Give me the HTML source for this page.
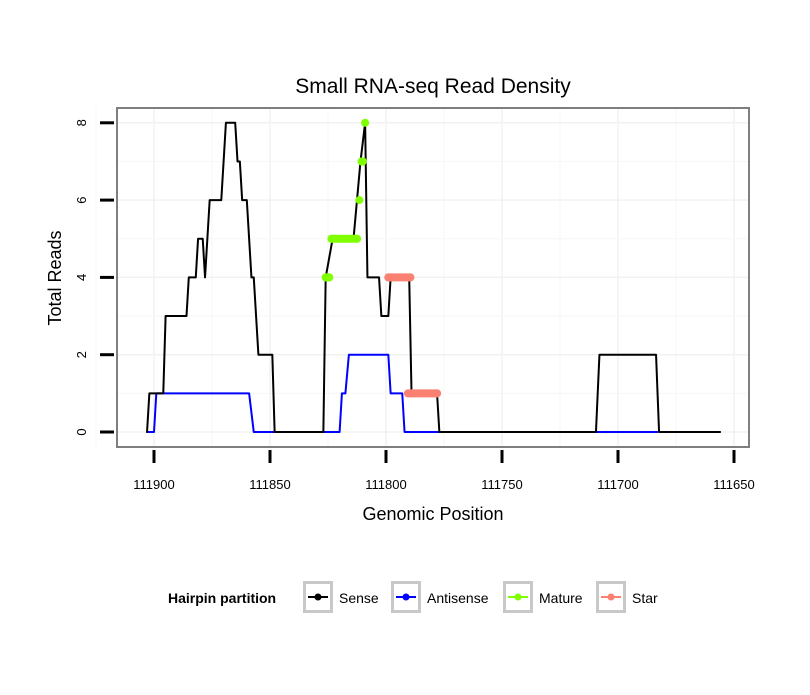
<!DOCTYPE html>
<html><head><meta charset="utf-8"><style>
body{margin:0;background:#fff;font-family:"Liberation Sans",sans-serif}
svg text{font-family:"Liberation Sans",sans-serif}
</style></head><body>
<svg id="c" width="810" height="690" xmlns="http://www.w3.org/2000/svg"></svg>
<script>
const senseX=[111903,111902,111896,111895,111886,111885,111882,111881,111879,111878,111876,111871,111869,111865,111864,111863,111862,111860,111858,111857,111855,111849,111848,111827,111826,111823,111814,111812.5,111811,111809,111808,111803,111802,111799,111798,111790,111789,111778,111777,111709.5,111708,111683.6,111682.3,111656];
const senseY=[0,1,1,3,3,4,4,5,5,4,6,6,8,8,7,7,6,6,4,4,2,2,0,0,4,5,5,6,7,8,4,4,3,3,4,4,1,1,0,0,2,2,0,0];
const antiX=[111903,111900,111899,111859,111857,111848,111820,111819,111817.5,111816,111799,111798,111793,111792,111683];
const antiY=[0,0,1,1,0,0,0,1,1,2,2,1,1,0,0];
const matureX=[111826,111824.5,111823.5,111812.5,111811.5,111810.5,111810,111809];
const matureY=[4,4,5,5,6,7,7,8];
const starX=[111799,111789.5,111790.5,111778];
const starY=[4,4,1,1];
const xTicks=[111900,111850,111800,111750,111700,111650];
const yTicks=[0,2,4,6,8];
const L=117,R=749,T=108,B=447;
const sx=v=>154+(111900-v)*2.32;
const sy=v=>432-v*38.65;
const svg=document.getElementById('c');
const NS='http://www.w3.org/2000/svg';
function mk(t,a,p){const e=document.createElementNS(NS,t);for(const k in a)e.setAttribute(k,a[k]);(p||svg).appendChild(e);return e;}
let e;
e=mk('rect',{x:L,y:T,width:R-L,height:B-T,fill:'#fff'});


// grid
xTicks.forEach((t,i)=>{e=mk('line',{x1:sx(t),x2:sx(t),y1:T,y2:B,stroke:'#f2f2f2','stroke-width':1.5});


if(i<xTicks.length-1){e=mk('line',{x1:sx(t-25),x2:sx(t-25),y1:T,y2:B,stroke:'#f7f7f7','stroke-width':1});

}});
e=mk('line',{x1:sx(111925),x2:sx(111925),y1:T,y2:B,stroke:'#f7f7f7'});
yTicks.forEach((t,i)=>{e=mk('line',{x1:L,x2:R,y1:sy(t),y2:sy(t),stroke:'#f2f2f2','stroke-width':1.5});


if(i<yTicks.length-1){e=mk('line',{x1:L,x2:R,y1:sy(t+1),y2:sy(t+1),stroke:'#f7f7f7'});

}});
function line(xs,ys,col,w,name){const p=xs.map((x,i)=>sx(x)+','+sy(ys[i])).join(' ');
const l=mk('polyline',{points:p,fill:'none',stroke:col,'stroke-width':w,'stroke-linejoin':'round','stroke-linecap':'round'});

}
line(antiX,antiY,'#0000ff',2,'antisense-line');
line(senseX,senseY,'#000',2,'sense-line');
function seg(xs,ys,col,name){for(let i=0;i<xs.length;i++){const c=mk('circle',{cx:sx(xs[i]),cy:sy(ys[i]),r:4,fill:col});


if(i<xs.length-1&&ys[i]===ys[i+1]){const l=mk('line',{x1:sx(xs[i]),x2:sx(xs[i+1]),y1:sy(ys[i]),y2:sy(ys[i]),stroke:col,'stroke-width':8,'stroke-linecap':'round'});

}}}
seg(matureX,matureY,'#7fff00','mature');
seg(starX,starY,'#fa8072','star');
e=mk('rect',{x:L,y:T,width:R-L,height:B-T,fill:'none',stroke:'#7f7f7f','stroke-width':2});


xTicks.forEach(t=>{e=mk('line',{x1:sx(t),x2:sx(t),y1:450,y2:463,stroke:'#000','stroke-width':3});


e=mk('text',{x:sx(t),y:489,'text-anchor':'middle','font-size':13});e.textContent=t;

});
yTicks.forEach(t=>{e=mk('line',{x1:100,x2:114,y1:sy(t),y2:sy(t),stroke:'#000','stroke-width':3});


e=mk('text',{x:86,y:sy(t),'text-anchor':'middle','font-size':13,transform:`rotate(-90 86 ${sy(t)})`});e.textContent=t;

});
e=mk('text',{x:433,y:93,'text-anchor':'middle','font-size':21});e.textContent='Small RNA-seq Read Density';


e=mk('text',{x:433,y:520,'text-anchor':'middle','font-size':18});e.textContent='Genomic Position';


e=mk('text',{x:61,y:278,'text-anchor':'middle','font-size':18,transform:'rotate(-90 61 278)'});e.textContent='Total Reads';


e=mk('text',{x:168,y:603,'font-size':14,'font-weight':'bold'});e.textContent='Hairpin partition';


const legNames=['Sense','Antisense','Mature','Star'];
const legCols=['#000','#0000ff','#7fff00','#fa8072'];
const legX=[303,391,503,596];
legNames.forEach((n,i)=>{const g=mk('g',{});


const x=legX[i];
mk('rect',{x:x+1.5,y:582.5,width:27,height:29,fill:'#fff',stroke:'#c8c8c8','stroke-width':3},g);
mk('line',{x1:x+5,x2:x+25,y1:597,y2:597,stroke:legCols[i],'stroke-width':2},g);
mk('circle',{cx:x+15,cy:597,r:3.5,fill:legCols[i]},g);
const t=mk('text',{x:x+36,y:603,'font-size':14},g);t.textContent=n;});
</script>
</body></html>
